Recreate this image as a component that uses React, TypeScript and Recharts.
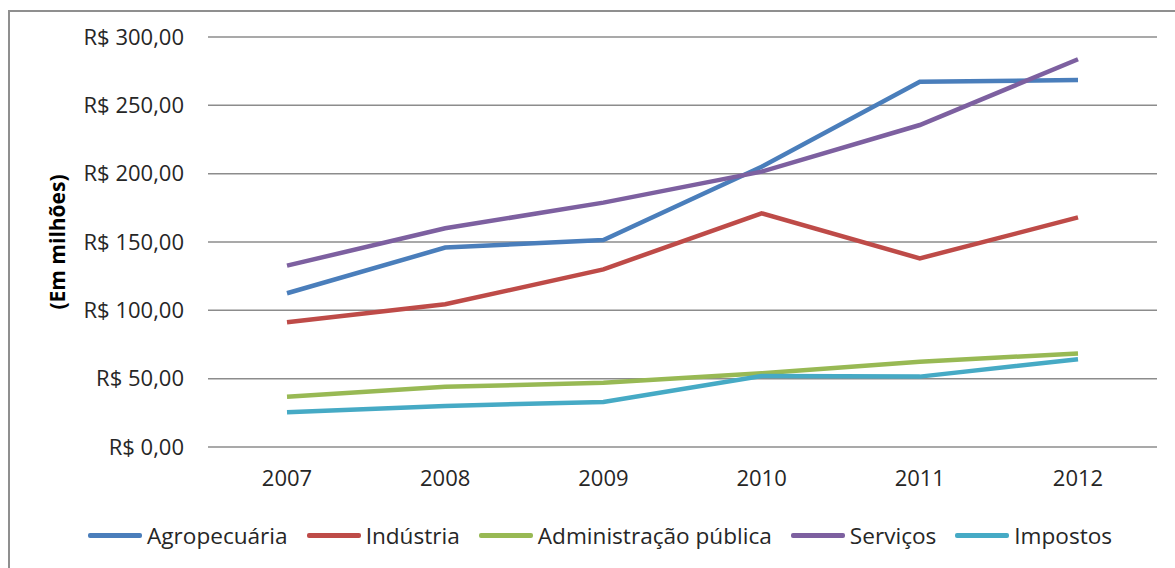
import { LineChart, Line, XAxis, YAxis, CartesianGrid, Legend } from "recharts";

const years = ["2007", "2008", "2009", "2010", "2011", "2012"];
const agropecuaria = [112.5, 145.9, 151.5, 205, 267.3, 268.5];
const industria = [91.2, 104.4, 130, 171, 138, 168];
const administracao = [36.8, 44, 47, 54, 62.4, 68.5];
const servicos = [132.7, 160, 178.8, 201.5, 235.6, 283.7];
const impostos = [25.4, 30, 33, 52, 51.5, 64.2];
const yTicks = [0, 50, 100, 150, 200, 250, 300];

const series = [
  { key: "agro", name: "Agropecuária", values: agropecuaria, color: "#4A7EBB" },
  { key: "ind", name: "Indústria", values: industria, color: "#BE4B48" },
  { key: "adm", name: "Administração pública", values: administracao, color: "#98B954" },
  { key: "serv", name: "Serviços", values: servicos, color: "#7D60A0" },
  { key: "imp", name: "Impostos", values: impostos, color: "#46AAC5" },
];

const data = years.map((year, i) => {
  const row: Record<string, string | number> = { year };
  series.forEach((s) => {
    row[s.key] = s.values[i];
  });
  return row;
});

const FONT = "'Open Sans', sans-serif";
const TEXT = "#262626";

const formatReal = (v: number) => "R$ " + v.toFixed(2).replace(".", ",");

function AxisTitle(props: any) {
  const vb = props.viewBox || { x: 0, y: 0, height: 0 };
  const cx = vb.x + 47;
  const cy = vb.y + vb.height / 2;
  return (
    <text
      x={cx}
      y={cy}
      transform={`rotate(-90, ${cx}, ${cy})`}
      textAnchor="middle"
      dominantBaseline="central"
      fontFamily={FONT}
      fontSize={21}
      fontWeight="bold"
      fill="#000"
    >
      (Em milhões)
    </text>
  );
}

function LegendRow() {
  return (
    <div style={{ display: "flex", alignItems: "center", fontFamily: FONT, fontSize: 22.6, color: TEXT }}>
      {series.map((s) => (
        <div key={s.key} style={{ display: "flex", alignItems: "center", marginRight: 19 }}>
          <div style={{ width: 54, height: 5, borderRadius: 2, background: s.color, marginRight: 5 }} />
          <span>{s.name}</span>
        </div>
      ))}
    </div>
  );
}

export default function App() {
  return (
    <div
      style={{
        position: "absolute",
        left: 8,
        top: 10,
        width: 1167,
        height: 558,
        borderLeft: "2px solid #8f8f8f",
        borderTop: "2px solid #8f8f8f",
        background: "#fff",
      }}
    >
      <LineChart
        width={1165}
        height={556}
        data={data}
        margin={{ top: 25, right: 18, bottom: 60, left: 0 }}
      >
        <CartesianGrid vertical={false} stroke="#8c8c8c" strokeWidth={1.5} />
        <XAxis
          dataKey="year"
          axisLine={false}
          tickLine={false}
          tickSize={0}
          tickMargin={23}
          padding={{ left: 79, right: 79 }}
          tick={{ fontFamily: FONT, fontSize: 22, fill: TEXT }}
        />
        <YAxis
          width={198}
          domain={[0, 300]}
          ticks={yTicks}
          interval={0}
          axisLine={false}
          tickLine={false}
          tickSize={0}
          tickMargin={24}
          tickFormatter={formatReal}
          tick={{ fontFamily: FONT, fontSize: 22, fill: TEXT }}
          label={<AxisTitle />}
        />
        <Legend
          content={<LegendRow />}
          wrapperStyle={{ left: 78, top: 508, width: 1100 }}
        />
        {series.map((s) => (
          <Line
            key={s.key}
            dataKey={s.key}
            name={s.name}
            stroke={s.color}
            strokeWidth={4.5}
            dot={false}
            activeDot={false}
            isAnimationActive={false}
          />
        ))}
      </LineChart>
    </div>
  );
}
